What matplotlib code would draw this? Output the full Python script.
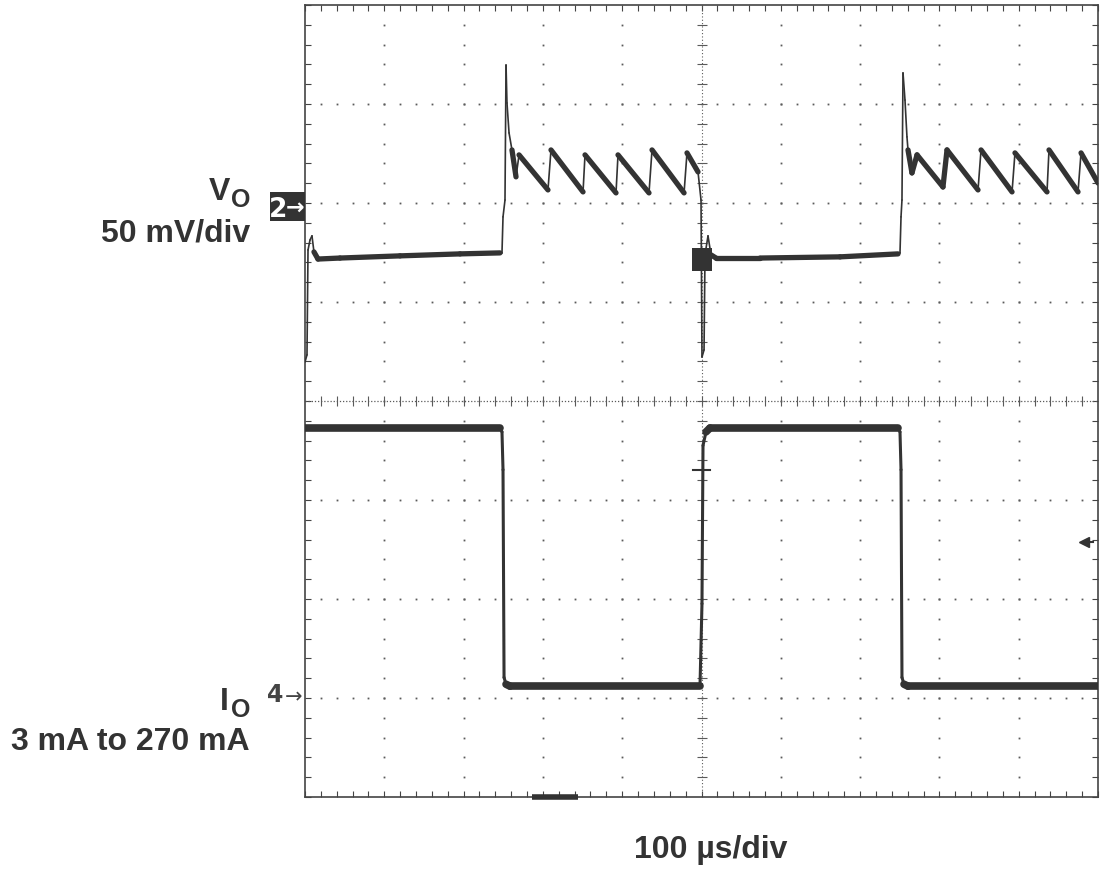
import numpy as np
import matplotlib
matplotlib.use('Agg')
import matplotlib.pyplot as plt
from matplotlib.collections import LineCollection
from matplotlib.patches import Rectangle

# Channel 2: output voltage, time in us, mV relative to the "2" marker
vo_t = [0, 2.5, 3.8, 6.3, 8.8, 11.3, 16.4, 44.1, 119.8, 195.5, 245.9,
        248.4, 249.7, 252.2, 253.5, 254.7, 257.3, 261.0, 266.1, 269.9,
        306.4, 310.2, 350.6, 353.1, 392.2, 394.7, 433.8, 437.6, 478.0, 481.7,
        495.6, 499.4, 500.6, 503.2, 504.4, 508.2, 512.0, 518.3, 573.8, 674.7, 747.8,
        750.3, 751.6, 752.8, 754.1, 756.6, 759.1, 760.4, 765.4, 771.8,
        804.5, 809.6, 848.7, 852.5, 891.6, 895.3, 935.7, 938.2, 974.8, 978.6, 1000]
vo_mv = [-77.8, -74.2, -21.2, -16.2, -14.1, -22.2, -25.8, -25.3, -24.2, -23.2, -22.7,
         -22.7, -4.5, 4.0, 72.2, 53.0, 37.9, 29.3, 15.7, 26.8,
         9.1, 29.3, 8.1, 26.8, 7.6, 26.8, 7.6, 29.3, 7.6, 27.8,
         18.2, 4.0, -75.3, -71.7, -23.7, -14.1, -23.7, -25.3, -25.3, -24.7, -23.2,
         -22.7, -4.5, 4.0, 68.2, 54.5, 35.9, 29.3, 17.7, 26.8,
         10.6, 29.3, 9.1, 29.3, 8.1, 27.8, 8.1, 29.3, 8.1, 27.8, 12.6]

# persistence smear of Vo around the load step
smear_t = [488, 513]
smear_lo = [-32, -32]
smear_hi = [-20, -20]

# Channel 4: load current, mA
io_t = [0, 245.9, 248.4, 249.7, 251.0, 253.5, 258.5, 498.1,
        500.6, 501.9, 505.7, 510.7, 747.8,
        750.3, 751.6, 752.8, 755.4, 760.4, 1000]
io_ma = [269, 269, 265, 226, 12, 5, 3, 3,
         88, 251, 265, 269, 269,
         265, 226, 12, 5, 3, 3]

VO_REF, VO_SCALE = 5.95, 50.0     # div, mV/div
IO_REF, IO_SCALE = 1.09, 102.0    # div, mA/div
TRACE = '#333333'
GRIDC = '#5a5a5a'
W, H = 1104, 880


def draw_trace(ax, t, y, thin, thick):
    pts = np.column_stack([t, y])
    segs = np.stack([pts[:-1], pts[1:]], axis=1)
    widths = np.where(np.diff(t) < 4, thin, thick)
    lc = LineCollection(segs, linewidths=widths, colors=TRACE,
                        capstyle='round', joinstyle='round', zorder=5)
    ax.add_collection(lc)


fig = plt.figure(figsize=(W / 100, H / 100), dpi=100)
ax = fig.add_axes([305 / W, 1 - 797 / H, 793 / W, 792 / H])
ax.set_xlim(0, 1000)
ax.set_ylim(0, 8)

# graticule dots
for gx in range(100, 1000, 100):
    if gx == 500:
        continue
    yy = np.arange(0.2, 8, 0.2)
    ax.plot(np.full(len(yy), gx), yy, ls='none', marker='s', ms=1.3, mew=0, color=GRIDC)
for gy in range(1, 8):
    if gy == 4:
        continue
    xx = np.arange(20, 1000, 20)
    ax.plot(xx, np.full(len(xx), gy), ls='none', marker='s', ms=1.3, mew=0, color=GRIDC)

# centre lines with minor ticks
ax.axvline(500, ls=(0, (1, 2)), lw=0.8, color=GRIDC)
ax.axhline(4, ls=(0, (1, 1.5)), lw=0.9, color=GRIDC)
yy = np.arange(0.2, 8, 0.2)
ax.plot(np.full(len(yy), 500), yy, ls='none', marker='_', ms=7, mew=0.8, color=GRIDC)
xx = np.arange(20, 1000, 20)
ax.plot(xx, np.full(len(xx), 4), ls='none', marker='|', ms=7, mew=0.8, color=GRIDC)

# frame ticks
ax.set_xticks(np.arange(0, 1001, 20))
ax.set_yticks(np.arange(0, 8.01, 0.2))
ax.tick_params(direction='in', length=4, width=0.8, color='#444444',
               top=True, right=True, labelbottom=False, labelleft=False)
for s in ax.spines.values():
    s.set_color('#444444')
    s.set_linewidth(1.2)

# traces
vo_div = VO_REF + np.array(vo_mv) / VO_SCALE
io_div = IO_REF + np.array(io_ma) / IO_SCALE
ax.fill_between(smear_t, VO_REF + np.array(smear_lo) / VO_SCALE,
                VO_REF + np.array(smear_hi) / VO_SCALE, color=TRACE, lw=0, zorder=5)
draw_trace(ax, np.array(vo_t), vo_div, 1.2, 3.8)
draw_trace(ax, np.array(io_t), io_div, 2.2, 5.5)

# scope markers
ax.plot([0.489, 0.511], [0.413, 0.413], transform=ax.transAxes, color=TRACE, lw=1.5, zorder=6)
ax.plot([0.286, 0.344], [0.0, 0.0], transform=ax.transAxes, color=TRACE, lw=4,
        solid_capstyle='butt', clip_on=False, zorder=6)
ax.plot([0.982, 0.994], [0.322, 0.322], transform=ax.transAxes, color=TRACE, lw=1.5)
ax.plot([0.982], [0.322], transform=ax.transAxes, marker='<', ms=7, color=TRACE)

# channel reference markers
fig.patches.append(Rectangle((270 / W, 1 - 221 / H), 35 / W, 29 / H,
                             transform=fig.transFigure, fc='#333333', ec='none'))
fig.text(287 / W, 1 - 217 / H, '2', ha='right', va='baseline', fontsize=19,
         color='white', fontweight='bold', family='DejaVu Sans')
fig.text(304 / W, 1 - 208 / H, '\u2192', ha='right', va='center', fontsize=16,
         color='white', fontweight='bold', family='DejaVu Sans')
fig.text(283 / W, 1 - 702 / H, '4', ha='right', va='baseline', fontsize=17,
         color='#444444', fontweight='bold', family='DejaVu Sans')
fig.text(302 / W, 1 - 697 / H, '\u2192', ha='right', va='center', fontsize=15,
         color='#444444', family='DejaVu Sans')

# labels
lab = dict(family='Liberation Sans', fontweight='bold', color='#333333', va='baseline')
fig.text(230 / W, 1 - 200 / H, 'V', ha='right', fontsize=23, **lab)
fig.text(250 / W, 1 - 207 / H, 'O', ha='right', fontsize=18, **lab)
fig.text(250 / W, 1 - 242 / H, '50 mV/div', ha='right', fontsize=23, **lab)
fig.text(229 / W, 1 - 710 / H, 'I', ha='right', fontsize=23, **lab)
fig.text(250 / W, 1 - 717 / H, 'O', ha='right', fontsize=18, **lab)
fig.text(250 / W, 1 - 750 / H, '3 mA to 270 mA', ha='right', fontsize=23, **lab)
fig.text(711 / W, 1 - 858 / H, '100 \u00b5s/div', ha='center', fontsize=23, **lab)

fig.savefig('out.png', dpi=100)
